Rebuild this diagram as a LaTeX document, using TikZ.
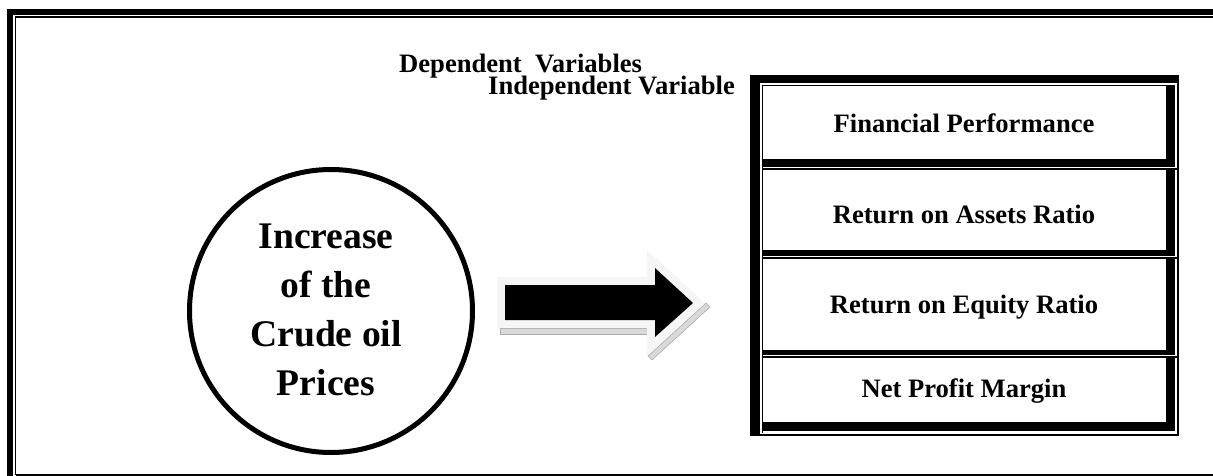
\documentclass[tikz,border=0pt]{standalone}
\usepackage{fontspec}
\setmainfont{Liberation Serif}
\begin{document}
\begin{tikzpicture}[x=1pt,y=-1pt,
  lbl/.style={font=\bfseries\fontsize{26.6}{30}\selectfont, inner sep=0pt, anchor=base},
  bigtxt/.style={font=\bfseries\fontsize{37.6}{49}\selectfont, inner sep=0pt, align=center},
  thinln/.style={line width=1.6pt},
  shadowstrip/.style={fill=gray!30, draw=gray!65, line width=0.6pt}]
\useasboundingbox (0,0) rectangle (1213,476);
% outer frame (thick outside, thin inside)
\draw[line width=6pt] (10,490) -- (10,12) -- (1230,12);
\draw[thinln] (15.6,475.2) -- (15.6,17.2) -- (1230,17.2);
\draw[thinln] (15.6,475.2) -- (1230,475.2);

% headings
\node[lbl, anchor=base west] (dep) at (399,73) {Dependent\ \ Variables};
\node[lbl, anchor=base west] (indep) at (488,95) {Independent Variable};

% circle
\node[circle, draw, line width=5pt, minimum size=283pt, inner sep=0pt] (circ) at (331,311) {};
\node[bigtxt] (ctext) at (326,310) {Increase\\of the\\Crude oil\\Prices};

% block arrow with light outline and hatched shadow
\path[shadowstrip] (500,328) rectangle (647,334);
\path[shadowstrip] (648,356) -- (706,303) -- (710,307) -- (652,360) -- cycle;
\draw[gray!7, line width=16pt, line join=miter, fill=black]
  (505,285) -- (655,285) -- (655,268) -- (693,303) -- (655,337) -- (655,320) -- (505,320) -- cycle;
\fill[black] (505,285) -- (655,285) -- (655,268) -- (693,303) -- (655,337) -- (655,320) -- (505,320) -- cycle;

% right stack frame
\fill (750,75) rectangle (760,436);
\fill (750,75) rectangle (1179,83);
\draw[thinln] (762.6,433) -- (762.6,85.6) -- (1175,85.6);
\draw[thinln] (1178,75) -- (1178,435.2) -- (760,435.2);
% row 1
\fill (1166,86.5) rectangle (1175,167);
\fill (762,159) rectangle (1175,167);
\draw[thinln] (762,168.8) -- (1178,168.8);
% row 2
\fill (1166,170) rectangle (1175,256);
\fill (762,250) rectangle (1175,256);
\draw[thinln] (762,257.8) -- (1178,257.8);
% row 3
\fill (1166,259) rectangle (1175,355);
\fill (762,350) rectangle (1175,355);
\draw[thinln] (762,356.8) -- (1178,356.8);
% row 4
\fill (1166,358) rectangle (1175,431);
\fill (762,422) rectangle (1175,431);

\node[lbl] (fp) at (964,132.7) {Financial Performance};
\node[lbl] (roa) at (964,223) {Return on Assets Ratio};
\node[lbl] (roe) at (964,313) {Return on Equity Ratio};
\node[lbl] (npm) at (964,397) {Net Profit Margin};
\end{tikzpicture}
\end{document}
